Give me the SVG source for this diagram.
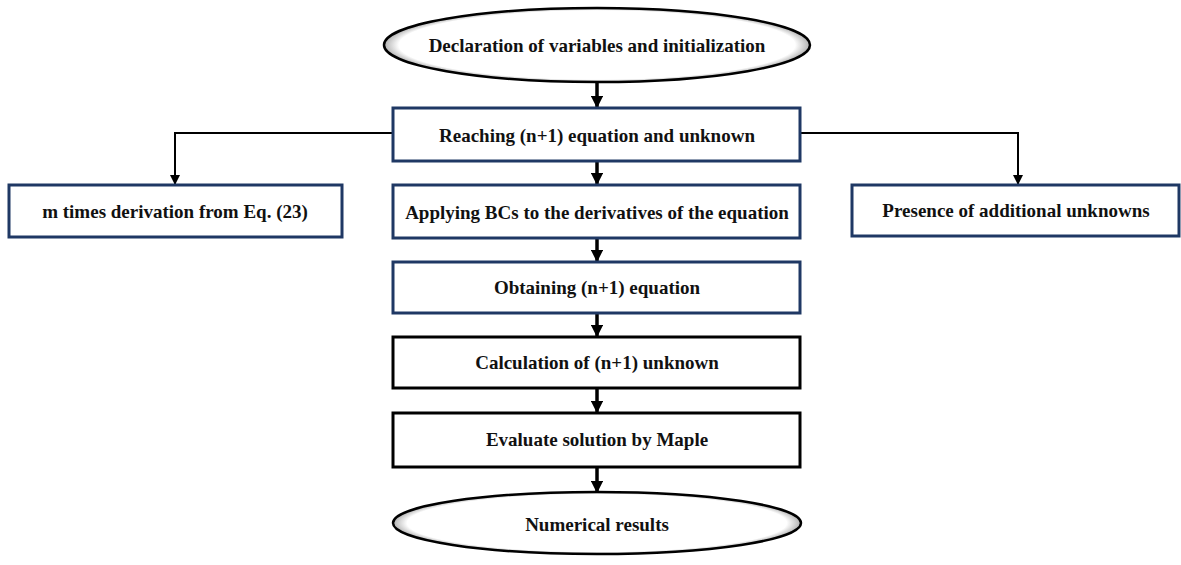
<svg xmlns="http://www.w3.org/2000/svg" width="1181" height="565" viewBox="0 0 1181 565">
<style>
.t{font-family:"Liberation Serif","Times New Roman",serif;font-weight:bold;font-size:19px;fill:#111;text-anchor:middle;dominant-baseline:central}
.bn{fill:#fff;stroke:#1f3864;stroke-width:3}
.bk{fill:#fff;stroke:#000;stroke-width:3}
.el{fill:url(#g);stroke:#000;stroke-width:2.5}
.main{stroke:#000;stroke-width:3.5;fill:none;marker-end:url(#ah)}
.side{stroke:#000;stroke-width:2;fill:none;marker-end:url(#as)}
</style>
<defs>
<radialGradient id="g" cx="50%" cy="50%" r="50%">
<stop offset="0" stop-color="#fff"/>
<stop offset="0.93" stop-color="#fff"/>
<stop offset="1" stop-color="#b0b0b0"/>
</radialGradient>
<marker id="ah" viewBox="0 0 10 10" refX="9" refY="5" markerWidth="3.5" markerHeight="3.5" orient="auto" markerUnits="strokeWidth">
<path d="M0,0 L10,5 L0,10 z" fill="#000"/>
</marker>
<marker id="as" viewBox="0 0 10 10" refX="9" refY="5" markerWidth="5" markerHeight="5" orient="auto" markerUnits="strokeWidth">
<path d="M0,0 L10,5 L0,10 z" fill="#000"/>
</marker>
</defs>
<g id="connectors">
<line class="main" x1="597" y1="82" x2="597" y2="107"/>
<line class="main" x1="597" y1="162" x2="597" y2="184"/>
<line class="main" x1="597" y1="238" x2="597" y2="261"/>
<line class="main" x1="597" y1="313" x2="597" y2="336"/>
<line class="main" x1="597" y1="389" x2="597" y2="412"/>
<line class="main" x1="597" y1="467" x2="597" y2="492"/>
<polyline class="side" points="393,133 175,133 175,184"/>
<polyline class="side" points="800,133 1018,133 1018,184"/>
</g>
<g id="n-start">
<ellipse class="el" cx="597" cy="45" rx="213" ry="37"/>
<text class="t" x="597" y="45">Declaration of variables and initialization</text>
</g>
<g id="n-reach">
<rect class="bn" x="393" y="108" width="407" height="53"/>
<text class="t" x="597" y="135">Reaching (n+1) equation and unknown</text>
</g>
<g id="n-mtimes">
<rect class="bn" x="9" y="185" width="333" height="52"/>
<text class="t" x="175" y="211">m times derivation from Eq. (23)</text>
</g>
<g id="n-apply">
<rect class="bn" x="393" y="185" width="407" height="53"/>
<text class="t" x="597" y="212">Applying BCs to the derivatives of the equation</text>
</g>
<g id="n-presence">
<rect class="bn" x="852" y="185" width="327" height="51"/>
<text class="t" x="1016" y="210">Presence of additional unknowns</text>
</g>
<g id="n-obtain">
<rect class="bn" x="393" y="262" width="407" height="51"/>
<text class="t" x="597" y="287">Obtaining (n+1) equation</text>
</g>
<g id="n-calc">
<rect class="bk" x="393" y="337" width="407" height="51"/>
<text class="t" x="597" y="362">Calculation of (n+1) unknown</text>
</g>
<g id="n-eval">
<rect class="bk" x="393" y="413" width="407" height="54"/>
<text class="t" x="597" y="439">Evaluate solution by Maple</text>
</g>
<g id="n-end">
<ellipse class="el" cx="597" cy="523" rx="204" ry="31"/>
<text class="t" x="597" y="524">Numerical results</text>
</g>
</svg>
